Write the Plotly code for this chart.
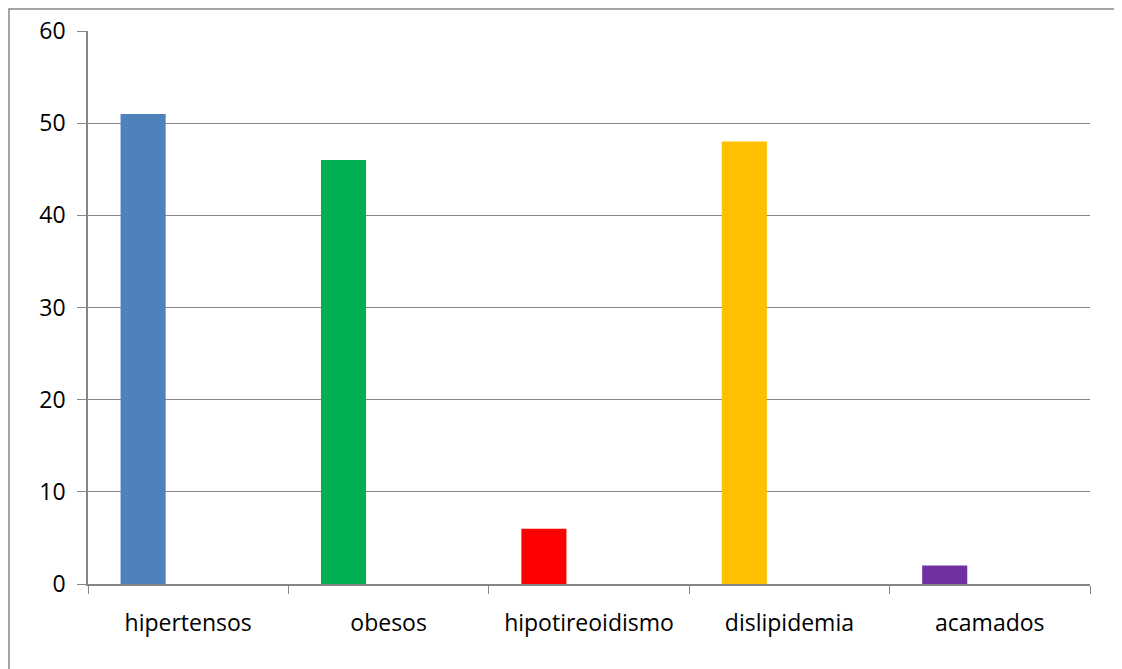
import plotly.graph_objects as go

categories = ["hipertensos", "obesos", "hipotireoidismo", "dislipidemia", "acamados"]
values = [51, 46, 6, 48, 2]
colors = ["#4F81BD", "#00B050", "#FF0000", "#FFC000", "#7030A0"]
y_ticks = [0, 10, 20, 30, 40, 50, 60]

OFF = 8  # page body margin
W, H = 1122, 669
# desired plot area in page pixels
PL, PR, PT, PB = 88, 1090, 31, 584
L, T = PL - OFF, PT - OFF
R = W - (PR - OFF)
B = H - (PB - OFF)
pw, ph = PR - PL, PB - PT

def px_x(x):
    return (x - PL) / pw

def px_y(y):
    return (PB - y) / ph

fig = go.Figure()
fig.add_trace(go.Bar(
    x=categories, y=values,
    marker=dict(color=colors, line=dict(width=0)),
    width=0.225, offset=-0.3375,
    showlegend=False,
))

fig.update_layout(
    width=W, height=H,
    margin=dict(l=L, r=R, t=T, b=B, autoexpand=False),
    paper_bgcolor="white", plot_bgcolor="white",
    font=dict(family="Open Sans, DejaVu Sans, sans-serif", size=23, color="black"),
    xaxis=dict(
        type="category", showgrid=False, tickson="boundaries",
        ticks="outside", ticklen=8, tickcolor="#868686",
        showline=True, linecolor="#868686", linewidth=1.5,
        ticklabelstandoff=18, automargin=False,
        range=[-0.5, 4.5],
    ),
    yaxis=dict(
        range=[0, 60], tickvals=y_ticks,
        showgrid=True, gridcolor="#868686", gridwidth=1,
        ticks="outside", ticklen=9, tickcolor="#868686",
        showline=True, linecolor="#868686", linewidth=1.5,
        zeroline=False, ticklabelstandoff=7, automargin=False,
    ),
    shapes=[dict(
        type="rect", xref="paper", yref="paper",
        x0=px_x(9), x1=px_x(1120), y0=px_y(9), y1=px_y(700),
        line=dict(color="#868686", width=1.5), fillcolor="rgba(0,0,0,0)",
        layer="below",
    )],
)

fig.write_html("out.html")
